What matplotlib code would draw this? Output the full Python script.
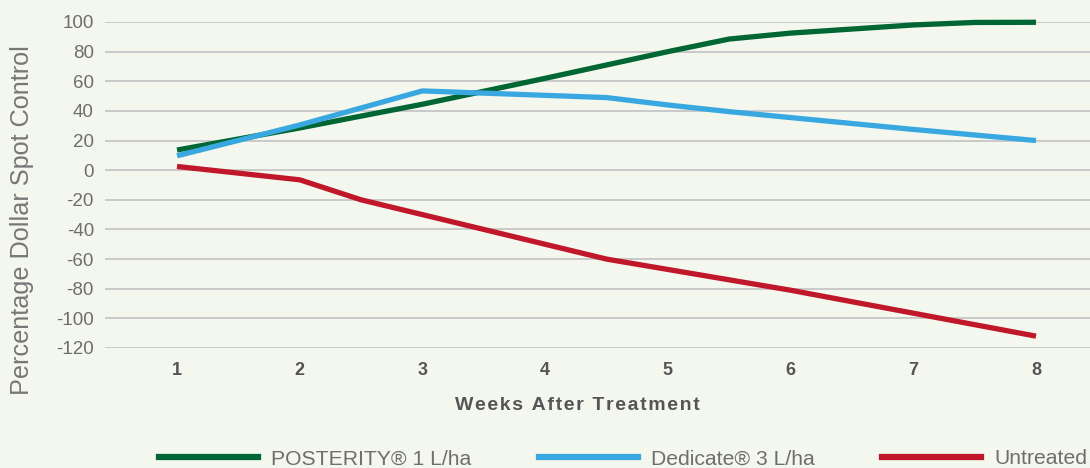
import matplotlib.pyplot as plt
from matplotlib.lines import Line2D

plt.rcParams['font.family'] = ['Liberation Sans', 'DejaVu Sans']

# data
posterity_weeks = [1, 2, 3, 4, 5, 5.5, 6, 7, 7.5, 8]
posterity_vals = [13.6, 28.5, 44.5, 62, 80, 88.5, 92.5, 98, 99.7, 99.8]

dedicate_weeks = [1, 2, 3, 4, 4.5, 5, 5.5, 6, 7, 8]
dedicate_vals = [9.7, 30.5, 53.5, 50.5, 49, 44, 39.5, 35.5, 27.5, 20]

untreated_weeks = [1, 2, 2.5, 3, 4, 4.5, 5, 6, 7, 8]
untreated_vals = [2.5, -6.5, -20, -30, -50, -60, -67, -81, -96.5, -112]

series_names = ['POSTERITY® 1 L/ha', 'Dedicate® 3 L/ha', 'Untreated']
series_colors = ['#006633', '#3aa8e0', '#c0172a']

xticks = [1, 2, 3, 4, 5, 6, 7, 8]
yticks = [100, 80, 60, 40, 20, 0, -20, -40, -60, -80, -100, -120]

bg = '#f4f7ee'
W, H = 1090, 468
fig = plt.figure(figsize=(W / 100, H / 100), dpi=100, facecolor=bg)
ax = fig.add_axes([105 / W, (H - 348) / H, (W - 105) / W, (348 - 22) / H])
ax.set_facecolor(bg)

all_x = [posterity_weeks, dedicate_weeks, untreated_weeks]
all_y = [posterity_vals, dedicate_vals, untreated_vals]
for xs, ys, c, name in zip(all_x, all_y, series_colors, series_names):
	ax.plot(xs, ys, color=c, lw=3.8, solid_capstyle='butt', clip_on=False, zorder=3, label=name)

ax.set_xlim(0.413, 8.44)
ax.set_ylim(-120, 100)
ax.set_xticks(xticks)
ax.set_yticks(yticks)
ax.set_yticklabels([str(v) for v in yticks])
ax.grid(axis='y', color='#c9c9c9', lw=1.4)
ax.set_axisbelow(True)
for s in ax.spines.values():
	s.set_visible(False)
ax.tick_params(axis='both', length=0)
ax.tick_params(axis='y', pad=8, labelsize=13.5, labelcolor='#6e6e6e')
ax.tick_params(axis='x', pad=10, labelsize=13, labelcolor='#555555')
for t in ax.get_xticklabels():
	t.set_fontweight('bold')

fig.text(22 / W, 1 - 220 / H, 'Percentage Dollar Spot Control', rotation=90,
	ha='center', va='center', fontsize=18.2, color='#777777')
# spaced-out axis title like the original
xlab = '\u200a'.join('Weeks After Treatment')
fig.text(577 / W, 1 - 405 / H, xlab, ha='center', va='center',
	fontsize=14, fontweight='bold', color='#555555')

handles = [Line2D([0], [0], color=c, lw=4.5) for c in series_colors]
fig.legend(handles, series_names, loc='center', bbox_to_anchor=(623 / W, 1 - 459 / H),
	ncol=3, frameon=False, fontsize=15.2, handlelength=4.7, handletextpad=0.6,
	columnspacing=3.2, labelcolor='#6e6e6e')

fig.savefig('out.png', dpi=100, facecolor=bg)
